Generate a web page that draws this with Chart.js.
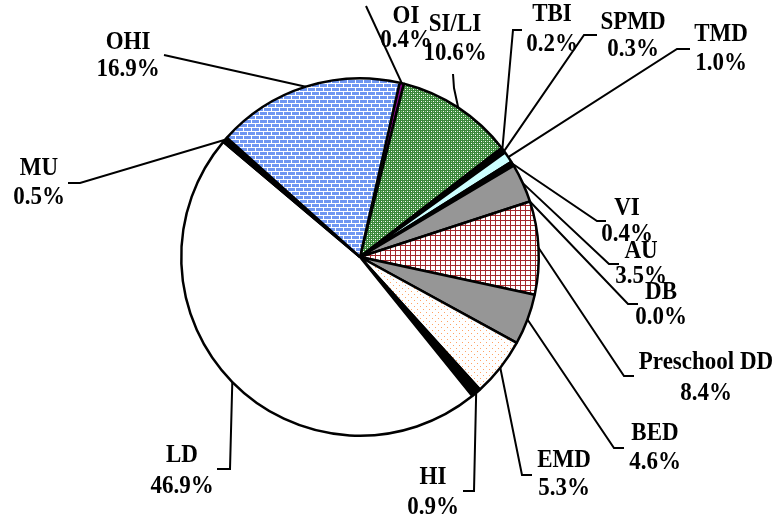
<!DOCTYPE html>
<html>
<head>
<meta charset="utf-8">
<script src="https://cdn.jsdelivr.net/npm/chart.js@4.4.1/dist/chart.umd.min.js"></script>
<style>
html,body{margin:0;padding:0;background:#fff;}
#wrap{width:778px;height:520px;}
</style>
</head>
<body>
<div id="wrap"><canvas id="c" width="778" height="520"></canvas></div>
<script>
// ---- data ----
const categories = ["OI","SI/LI","TBI","SPMD","TMD","VI","AU","DB","Preschool DD","BED","EMD","HI","LD","MU","OHI"];
const percents   = [0.4, 10.6, 0.2, 0.3, 1.0, 0.4, 3.5, 0.0, 8.4, 4.6, 5.3, 0.9, 46.9, 0.5, 16.9];

// ---- label layout (text centre x, name line y, percent line y, leader points from text to elbow) ----
const labelLayout = [
  {x:406, y1:16,  y2:40,  pts:[[366,6]]},
  {x:455, y1:24,  y2:53,  pts:[[453,74],[454,88]]},
  {x:552, y1:14,  y2:44,  pts:[[522,30],[513,30]]},
  {x:633, y1:22,  y2:49,  pts:[[597,35],[584,35]]},
  {x:721, y1:34,  y2:63,  pts:[[690,49],[677,49]]},
  {x:627, y1:208, y2:234, pts:[[606,221],[597,221]]},
  {x:641, y1:251, y2:276, pts:[[619,264],[609,264]]},
  {x:661, y1:292, y2:317, pts:[[638,304],[628,304]]},
  {x:706, y1:362, y2:393, pts:[[634,376],[624,376]]},
  {x:655, y1:433, y2:462, pts:[[624,448],[614,448]]},
  {x:564, y1:460, y2:488, pts:[[532,475],[522,475]]},
  {x:433, y1:477, y2:507, pts:[[463,491],[474,491]]},
  {x:182, y1:455, y2:486, pts:[[217,469],[230,469]]},
  {x:39,  y1:168, y2:197, pts:[[68,183],[80,183]]},
  {x:128, y1:42,  y2:69,  pts:[[164,55]]}
];

function mkPattern(w,h,draw){
  const c=document.createElement('canvas');c.width=w;c.height=h;
  const x=c.getContext('2d');draw(x);
  return x.createPattern(c,'repeat');
}
const ctx0=document.getElementById('c').getContext('2d');
const brick=mkPattern(8,8,g=>{
  g.fillStyle='#7097F2';g.fillRect(0,0,8,8);
  g.fillStyle='#ffffff';
  g.fillRect(0,3,8,1);g.fillRect(0,7,8,1);
  g.fillRect(3,0,1,3);g.fillRect(7,4,1,3);
});
const green=mkPattern(4,4,g=>{
  g.fillStyle='#3A873A';g.fillRect(0,0,4,4);
  g.fillStyle='#ffffff';g.fillRect(1,1,1,1);g.fillRect(3,3,1,1);
  g.fillStyle='#8CC88C';g.fillRect(1,3,1,1);g.fillRect(3,1,1,1);
});
const grid=mkPattern(5,5,g=>{
  g.fillStyle='#ffffff';g.fillRect(0,0,5,5);
  g.fillStyle='#A3282C';g.fillRect(0,0,1,5);g.fillRect(0,0,5,1);
});
const dots=mkPattern(6,6,g=>{
  g.fillStyle='#ffffff';g.fillRect(0,0,6,6);
  g.fillStyle='#FFA366';g.fillRect(0,0,1,1);g.fillRect(3,3,1,1);
});
const fills=['#800080',green,'#000000','#000000','#CCFFFF','#000000','#969696','#969696',grid,'#969696',dots,'#000000','#ffffff','#000000',brick];

function drawText(ctx,t,x,y){
  ctx.save();ctx.translate(x,y);ctx.scale(1,1.12);ctx.fillText(t,0,0);ctx.restore();
}

const labelPlugin={
  id:'labels',
  afterDatasetsDraw(chart){
    const ctx=chart.ctx;
    const arcs=chart.getDatasetMeta(0).data;
    ctx.save();
    ctx.strokeStyle='#000';ctx.lineWidth=2;
    ctx.font='bold 23px "Liberation Serif", "Times New Roman", serif';
    ctx.fillStyle='#000';ctx.textAlign='center';ctx.textBaseline='middle';
    arcs.forEach((a,i)=>{
      const p=a.getProps(['x','y','startAngle','endAngle','outerRadius'],true);
      const mid=(p.startAngle+p.endAngle)/2;
      const ax=p.x+Math.cos(mid)*p.outerRadius, ay=p.y+Math.sin(mid)*p.outerRadius;
      const L=labelLayout[i];
      ctx.beginPath();
      ctx.moveTo(L.pts[0][0],L.pts[0][1]);
      for(let k=1;k<L.pts.length;k++)ctx.lineTo(L.pts[k][0],L.pts[k][1]);
      ctx.lineTo(ax,ay);
      ctx.stroke();
      drawText(ctx,categories[i],L.x,L.y1);
      drawText(ctx,percents[i].toFixed(1)+'%',L.x,L.y2);
    });
    ctx.restore();
  }
};

new Chart(ctx0,{
  type:'pie',
  data:{labels:categories,datasets:[{data:percents,backgroundColor:fills,borderColor:'#000',borderWidth:2.5,borderAlign:'center'}]},
  options:{
    responsive:false,animation:false,
    rotation:12.8,
    layout:{padding:{left:180,right:238,top:77,bottom:83}},
    plugins:{legend:{display:false},tooltip:{enabled:false}}
  },
  plugins:[labelPlugin]
});
</script>
</body>
</html>
